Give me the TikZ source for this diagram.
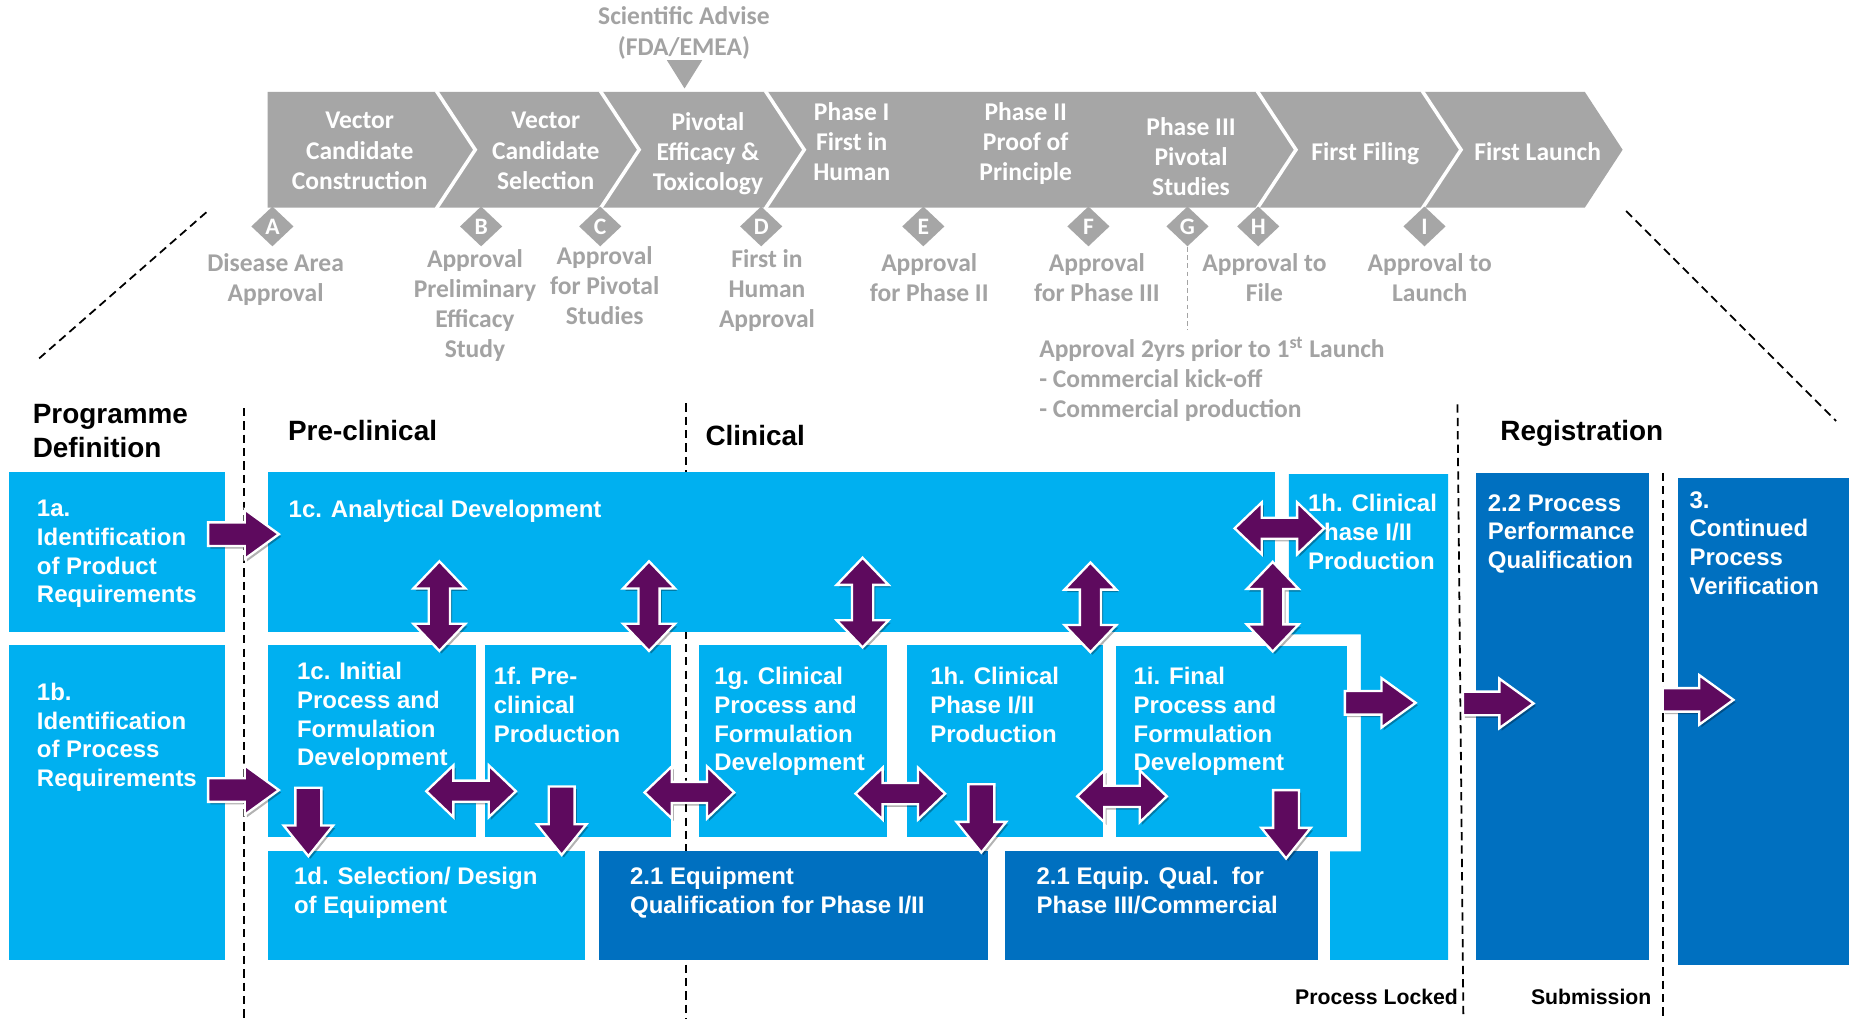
\documentclass[tikz,border=0pt]{standalone}
\usepackage{fontspec}
\setmainfont{Liberation Sans}
\newfontfamily\grayfam{Carlito}
\usetikzlibrary{shadows,shapes.geometric}

\definecolor{lightblue}{RGB}{0,176,240}
\definecolor{darkblue}{RGB}{0,112,192}
\definecolor{plum}{RGB}{94,10,94}
\definecolor{bandgray}{RGB}{166,166,166}
\definecolor{labelgray}{RGB}{163,163,163}

\tikzset{
  lbox/.style={fill=lightblue},
  dbox/.style={fill=darkblue},
  boxtext/.style={anchor=north west, inner sep=0pt, align=left, text=white,
    font=\fontsize{12.2}{14.6}\selectfont\bfseries},
  heading/.style={anchor=north west, inner sep=0pt, align=left, text=black,
    font=\fontsize{14.2}{17.4}\selectfont\bfseries},
  footnote/.style={anchor=north west, inner sep=0pt, text=black,
    font=\fontsize{10.8}{13}\selectfont\bfseries},
  bandtext/.style={anchor=north, inner sep=0pt, align=center, text=white,
    font=\grayfam\fontsize{13}{15.3}\selectfont\bfseries},
  graytext/.style={anchor=north, inner sep=0pt, align=center, text=labelgray,
    font=\grayfam\fontsize{13}{15.3}\selectfont\bfseries},
  graynote/.style={anchor=north west, inner sep=0pt, align=left, text=labelgray,
    font=\grayfam\fontsize{13}{15.3}\selectfont\bfseries},
  marker/.style={diamond, fill=bandgray, inner sep=0pt, minimum width=21.6pt,
    minimum height=20.4pt, text=white, font=\grayfam\fontsize{12}{12}\selectfont\bfseries},
  divider/.style={draw=black, line width=0.9pt, dash pattern=on 4.2pt off 2.6pt},
  blockarrow/.style={fill=plum, draw=white, line width=1.2pt, line join=miter,
    drop shadow={shadow xshift=1.1pt, shadow yshift=-1.3pt, opacity=0.3, fill=black}},
  rarrow/.pic={\path[blockarrow] (-30,-10) -- (1,-10) -- (1,-21) -- (30,0) -- (1,21) -- (1,10) -- (-30,10) -- cycle;},
  darrow/.pic={\path[blockarrow] (-11,-29) -- (11,-29) -- (11,3) -- (21,3) -- (0,29) -- (-21,3) -- (-11,3) -- cycle;},
  hdarrow/.pic={\path[blockarrow] (-38,0) -- (-15,-22) -- (-15,-9) -- (15,-9) -- (15,-22) -- (38,0) -- (15,22) -- (15,9) -- (-15,9) -- (-15,22) -- cycle;},
  vdarrow/.pic={\path[blockarrow] (0,-38) -- (-22,-15) -- (-9,-15) -- (-9,15) -- (-22,15) -- (0,38) -- (22,15) -- (9,15) -- (9,-15) -- (22,-15) -- cycle;},
}

\begin{document}
\begin{tikzpicture}[x=0.6pt,y=-0.6pt]
\useasboundingbox (0,0) rectangle (1568,864);
\fill[white] (0,0) rectangle (1568,864);

% ---------- phase dividers and zoom lines ----------
\draw[divider] (207,346) -- (207,864);
\draw[divider] (582,342) -- (582,864);
\draw[divider] (1236,343) -- (1241,864);
\draw[divider] (1410,401) -- (1410,864);
\draw[divider] (175,180) -- (32,305);
\draw[divider] (1379,179) -- (1557,357);

% ---------- milestone band ----------
\fill[bandgray] (227,78) -- (1344,78) -- (1376,127) -- (1344,176) -- (227,176) -- cycle;
\foreach \xt in {370,509,649,1066,1206}
  \draw[white, line width=1.8pt] (\xt,77) -- (\xt+33,127) -- (\xt,177);

\node[bandtext] (b1) at (305,95) {Vector\\Candidate\\Construction};
\node[bandtext] (b2) at (462.8,95) {Vector\\Candidate\\Selection};
\node[bandtext] (b3) at (600.4,95) {Pivotal\\Efficacy \&\\Toxicology};
\node[bandtext] (b4) at (722.3,86.3) {Phase I\\First in\\Human};
\node[bandtext] (b5) at (869.8,86.3) {Phase II\\Proof of\\Principle};
\node[bandtext] (b6) at (1010,99) {Phase III\\Pivotal\\Studies};
\node[bandtext] (b7) at (1157.8,120.5) {First Filing};
\node[bandtext] (b8) at (1304,120.5) {First Launch};

% scientific advice pointer
\node[graytext] (sci) at (580,5.6) {Scientific Advise\\(FDA/EMEA)};
\fill[bandgray] (565.5,51) -- (595.5,51) -- (580.5,75) -- cycle;

% ---------- decision points ----------
\node[marker] (mA) at (231,192) {A};
\node[marker] (mB) at (408,192) {B};
\node[marker] (mC) at (509,192) {C};
\node[marker] (mD) at (645.5,192) {D};
\node[marker] (mE) at (783,192) {E};
\node[marker] (mF) at (923,192) {F};
\node[marker] (mG) at (1007,192) {G};
\node[marker] (mH) at (1067,192) {H};
\node[marker] (mI) at (1208,192) {I};

\node[graytext] (lA) at (233.7,214.3) {Disease Area\\Approval};
\node[graytext] (lB) at (402.8,211) {Approval\\Preliminary\\Efficacy\\Study};
\node[graytext] (lC) at (512.8,208.7) {Approval\\for Pivotal\\Studies};
\node[graytext] (lD) at (650.4,211) {First in\\Human\\Approval};
\node[graytext] (lE) at (788,214.3) {Approval\\for Phase II};
\node[graytext] (lF) at (930.2,214.3) {Approval\\for Phase III};
\node[graytext] (lH) at (1072.3,214.3) {Approval to\\File};
\node[graytext] (lI) at (1212.4,214.3) {Approval to\\Launch};

\coordinate (gEnd) at (1007,280);
\draw[labelgray, line width=0.9pt, dash pattern=on 2.4pt off 1.8pt] (mG.south) -- (gEnd);
\node[graynote] (lG) at (881,286) {Approval 2yrs prior to 1\textsuperscript{st} Launch\\- Commercial kick-off\\- Commercial production};

% ---------- headings ----------
\node[heading] (hProg) at (27.5,342.5) {Programme\\Definition};
\node[heading] (hPre) at (244,356) {Pre-clinical};
\node[heading] (hClin) at (598,360) {Clinical};
\node[heading] (hReg) at (1272,356) {Registration};
\node[footnote] (fLock) at (1098,838.5) {Process Locked};
\node[footnote] (fSub) at (1298,838.5) {Submission};

% ---------- activity boxes ----------
\fill[lbox] (8,400) rectangle (191,536);
\fill[lbox] (8,547) rectangle (191,814);
\fill[lbox] (227,400) rectangle (1081,536);
\fill[lbox] (1093,402) -- (1228,402) -- (1228,814) -- (1128,814) -- (1128,722)
  -- (1154,722) -- (1154,538) -- (1093,538) -- cycle;
\fill[lbox] (227,547) rectangle (404,710);
\fill[lbox] (411,547) rectangle (569,710);
\fill[lbox] (593,547) rectangle (752,710);
\fill[lbox] (769,547) rectangle (935,710);
\fill[lbox] (946,548) rectangle (1142,710);
\fill[lbox] (227,722) rectangle (496,814);
\fill[dbox] (508,722) rectangle (837.5,814);
\fill[dbox] (852,722) rectangle (1117.5,814);
\fill[dbox] (1252,401) rectangle (1398,814);
\fill[dbox] (1423,405) rectangle (1568,818);

\node[boxtext] (t1a) at (31,424) {1a.\\Identification\\of Product\\Requirements};
\node[boxtext] (t1b) at (31,579) {1b.\\Identification\\of Process\\Requirements};
\node[boxtext] (t1c) at (244.5,424) {1c. Analytical Development};
\node[boxtext] (t1hT) at (1109,419) {1h. Clinical\\Phase I/II\\Production};
\node[boxtext] (t22) at (1261.4,419) {2.2 Process\\Performance\\Qualification};
\node[boxtext] (t3) at (1432.5,416.5) {3.\\Continued\\Process\\Verification};
\node[boxtext] (t1cI) at (251.6,561.5) {1c. Initial\\Process and\\Formulation\\Development};
\node[boxtext] (t1f) at (418.4,565.5) {1f. Pre-\\clinical\\Production};
\node[boxtext] (t1g) at (605.4,565.5) {1g. Clinical\\Process and\\Formulation\\Development};
\node[boxtext] (t1hB) at (788.6,565.5) {1h. Clinical\\Phase I/II\\Production};
\node[boxtext] (t1i) at (961,565.5) {1i. Final\\Process and\\Formulation\\Development};
\node[boxtext] (t1d) at (249,735) {1d. Selection/ Design\\of Equipment};
\node[boxtext] (t21a) at (534,735) {2.1 Equipment\\Qualification for Phase I/II};
\node[boxtext] (t21b) at (878.7,735) {2.1 Equip. Qual.~~for\\Phase III/Commercial};

% ---------- flow arrows ----------
\pic (r1) at (206.5,453) {rarrow};
\pic (r2) at (206.5,670) {rarrow};
\pic (r3) at (1170.5,596) {rarrow};
\pic (r4) at (1270.5,596.5) {rarrow};
\pic (r5) at (1440,593.5) {rarrow};

\pic (v1) at (372.6,514) {vdarrow};
\pic (v2) at (550.4,514) {vdarrow};
\pic (v3) at (731.5,511) {vdarrow};
\pic (v4) at (924.7,515) {vdarrow};
\pic (v5) at (1079.3,514.5) {vdarrow};

\pic (h0) at (1085,448) {hdarrow};
\pic (h1) at (399.5,671) {hdarrow};
\pic (h2) at (584.6,672) {hdarrow};
\pic (h3) at (763.5,673) {hdarrow};
\pic (h4) at (951.5,675.3) {hdarrow};

\pic (d1) at (261.5,697) {darrow};
\pic (d2) at (476.3,696) {darrow};
\pic (d3) at (832.2,694) {darrow};
\pic (d4) at (1090.6,699) {darrow};
\end{tikzpicture}
\end{document}
